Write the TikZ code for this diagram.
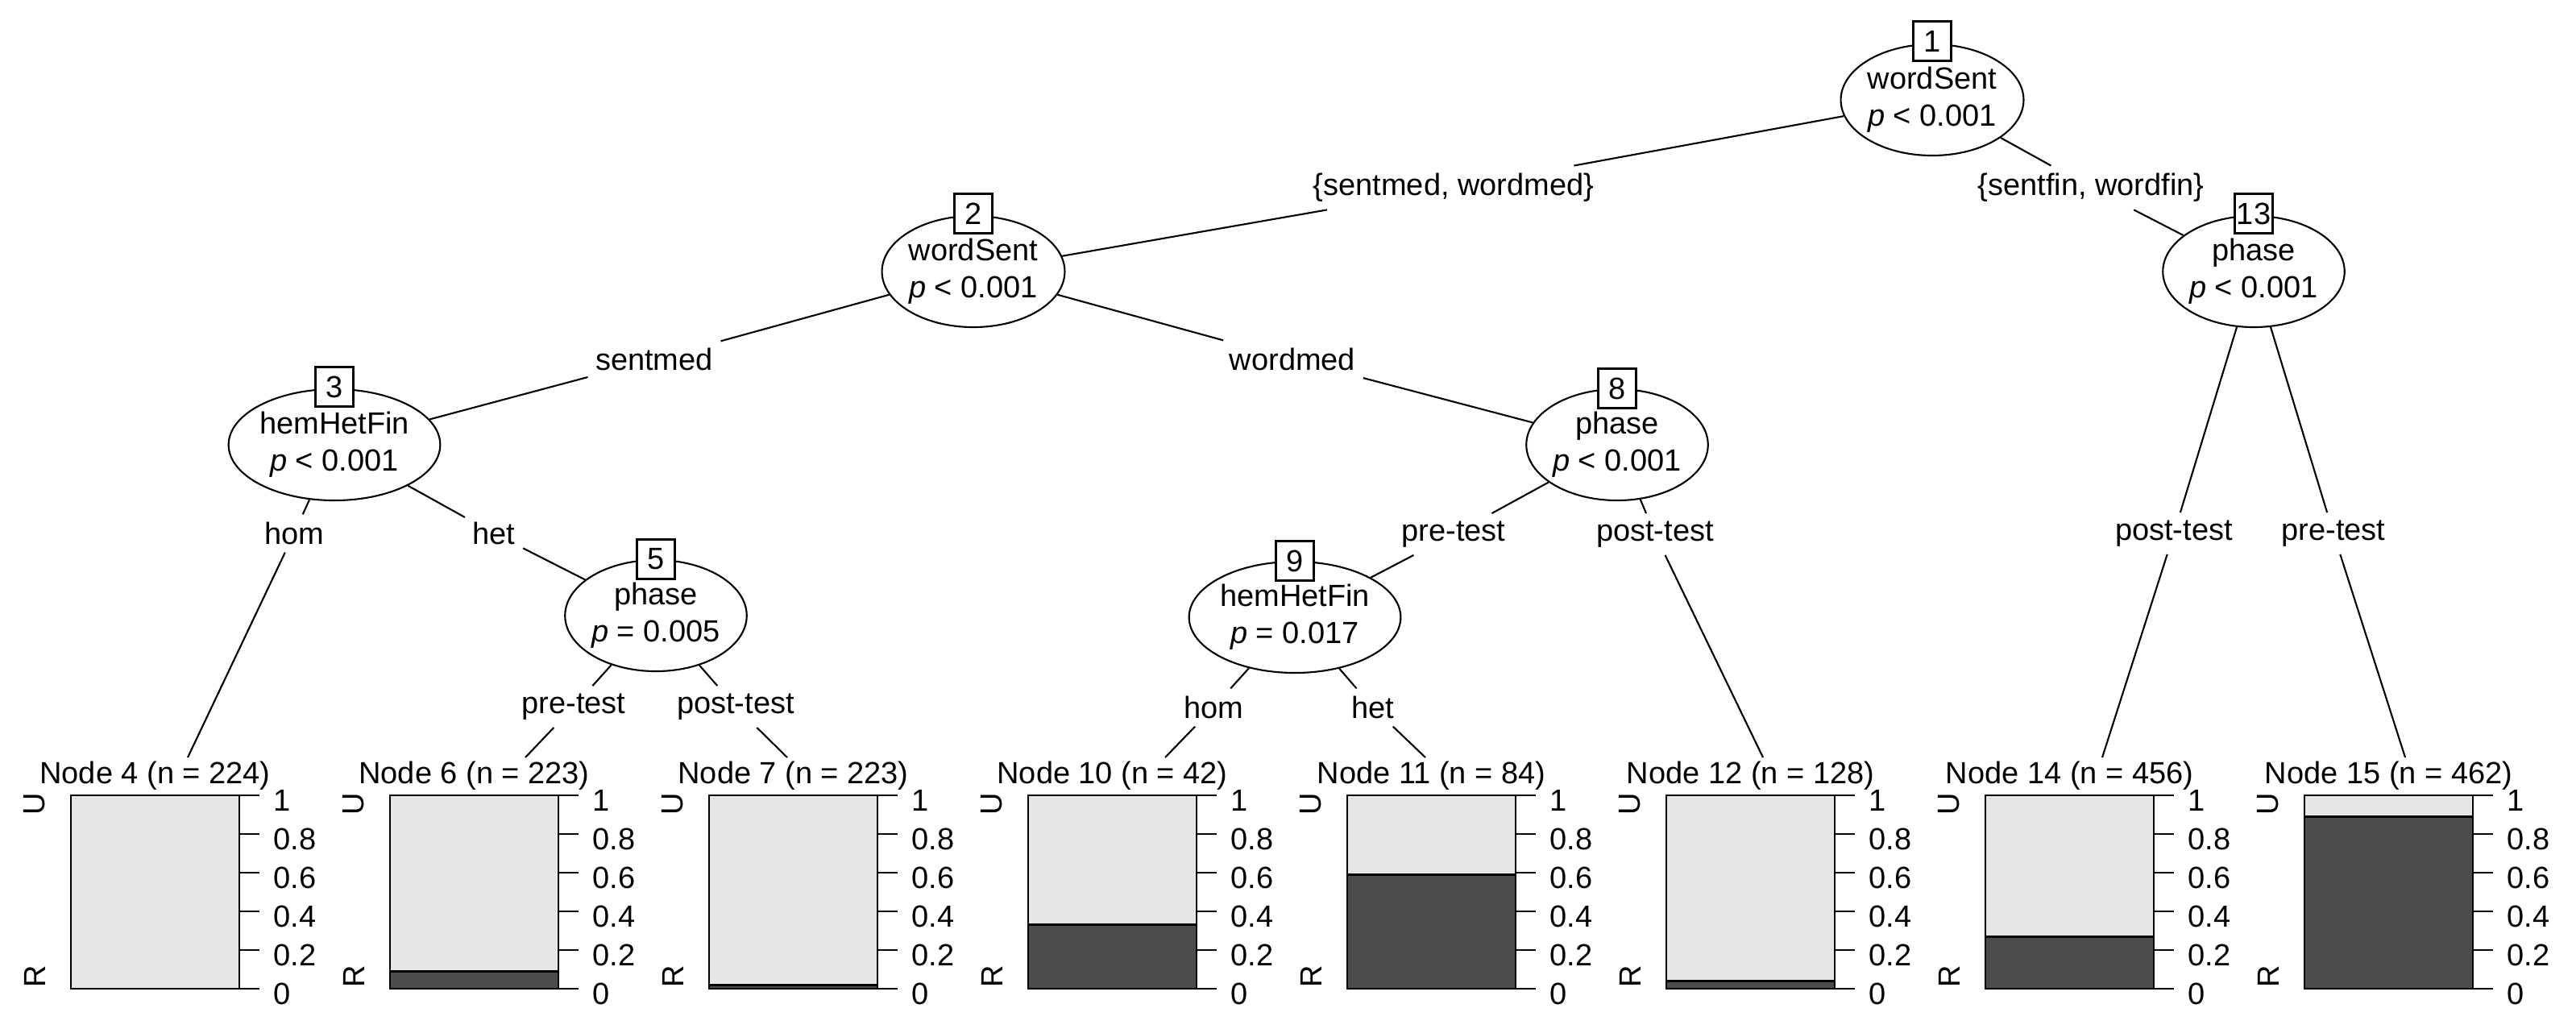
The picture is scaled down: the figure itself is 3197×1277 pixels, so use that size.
\documentclass[tikz,border=0pt]{standalone}
\usepackage{fontspec}
\setmainfont{Liberation Sans}
\usetikzlibrary{shapes.geometric}
\definecolor{lite}{HTML}{E6E6E6}
\definecolor{dark}{HTML}{4D4D4D}
\begin{document}
\begin{tikzpicture}[x=0.01cm,y=-0.01cm,
  every node/.style={font=\fontsize{10.8}{13}\selectfont},
  inner/.style={ellipse,draw,line width=0.6pt,minimum width=2.05cm,minimum height=1.38cm,inner sep=0pt,align=center},
  num/.style={rectangle,draw,fill=white,line width=0.6pt,minimum width=0.47cm,minimum height=0.49cm,inner sep=0pt},
  lab/.style={inner sep=0.09cm},
  edge/.style={line width=0.6pt},
  title/.style={inner sep=0pt}]
\useasboundingbox (0,0) rectangle (3197,1277);
% inner nodes
\node[inner] (n1) at (2398,124) {wordSent\\\textit{p} < 0.001};
\node[inner] (n2) at (1208,337) {wordSent\\\textit{p} < 0.001};
\node[inner] (n3) at (415,552) {hemHetFin\\\textit{p} < 0.001};
\node[inner] (n5) at (814,764) {phase\\\textit{p} = 0.005};
\node[inner] (n8) at (2007,552) {phase\\\textit{p} < 0.001};
\node[inner] (n9) at (1607,766) {hemHetFin\\\textit{p} = 0.017};
\node[inner] (n13) at (2797,337) {phase\\\textit{p} < 0.001};
\node[num] (b1) at (2398,51) {1};
\node[num] (b2) at (1208,265) {2};
\node[num] (b3) at (415,480) {3};
\node[num] (b5) at (814,694) {5};
\node[num] (b8) at (2007,482) {8};
\node[num] (b9) at (1607,696) {9};
\node[num] (b13) at (2797,265) {13};
% terminal panels
\foreach \i/\num/\n/\f/\ex in {0/4/224/0/233,1/6/223/0.09/652,2/7/223/0.02/977,3/10/42/0.33/1446,4/11/84/0.59/1769,5/12/128/0.04/2188,6/14/456/0.27/2609,7/15/462/0.89/2985}{
  \pgfmathsetmacro{\L}{88+396*\i}
  \pgfmathsetmacro{\R}{\L+209}
  \pgfmathsetmacro{\C}{\L+104.5}
  \pgfmathsetmacro{\D}{1227-240*\f}
  \fill[lite] (\L,987) rectangle (\R,1227);
  \ifdim\f pt>0pt \fill[dark] (\L,\D) rectangle (\R,1227);
    \draw[line width=0.8pt] (\L,\D) -- (\R,\D);\fi
  \draw[line width=0.8pt] (\L,987) rectangle (\R,1227);
  \foreach \k/\t in {0/0,1/0.2,2/0.4,3/0.6,4/0.8,5/1}{
    \pgfmathsetmacro{\yy}{1227-48*\k}
    \draw[line width=0.8pt] (\R,\yy) -- ++(25,0);
    \node[anchor=west,inner sep=0pt] at (\R+42,\yy+6) {\t};
  }
  \node[title] (h\num) at (\C,963) {Node \num\ (n = \n)};
  \node[rotate=90,inner sep=0pt] at (\L-45,998) {U};
  \node[rotate=90,inner sep=0pt] at (\L-45,1212) {R};
  \coordinate (t\num) at (\ex,940);
}
% edge labels
\node[lab] (l2) at (1804,233) {\{sentmed, wordmed\}};
\node[lab] (l13) at (2595,233) {\{sentfin, wordfin\}};
\node[lab] (l3) at (812,446) {sentmed};
\node[lab] (l8) at (1604,446) {wordmed};
\node[lab] (l4) at (365,662) {hom};
\node[lab] (l5) at (613,662) {het};
\node[lab] (l9) at (1804,663) {pre-test};
\node[lab] (l12) at (2054,663) {post-test};
\node[lab] (l14) at (2698,662) {post-test};
\node[lab] (l15) at (2896,662) {pre-test};
\node[lab] (l6) at (712,877) {pre-test};
\node[lab] (l7) at (913,877) {post-test};
\node[lab] (l10) at (1506,878) {hom};
\node[lab] (l11) at (1704,878) {het};
% edges
\draw[edge] (n1) -- (l2); \draw[edge] (l2) -- (n2);
\draw[edge] (n1) -- (l13); \draw[edge] (l13) -- (n13);
\draw[edge] (n2) -- (l3); \draw[edge] (l3) -- (n3);
\draw[edge] (n2) -- (l8); \draw[edge] (l8) -- (n8);
\draw[edge] (n3) -- (l4); \draw[edge] (l4) -- (t4);
\draw[edge] (n3) -- (l5); \draw[edge] (l5) -- (n5);
\draw[edge] (n5) -- (l6); \draw[edge] (l6) -- (t6);
\draw[edge] (n5) -- (l7); \draw[edge] (l7) -- (t7);
\draw[edge] (n8) -- (l9); \draw[edge] (l9) -- (n9);
\draw[edge] (n8) -- (l12); \draw[edge] (l12) -- (t12);
\draw[edge] (n9) -- (l10); \draw[edge] (l10) -- (t10);
\draw[edge] (n9) -- (l11); \draw[edge] (l11) -- (t11);
\draw[edge] (n13) -- (l14); \draw[edge] (l14) -- (t14);
\draw[edge] (n13) -- (l15); \draw[edge] (l15) -- (t15);
\end{tikzpicture}
\end{document}
